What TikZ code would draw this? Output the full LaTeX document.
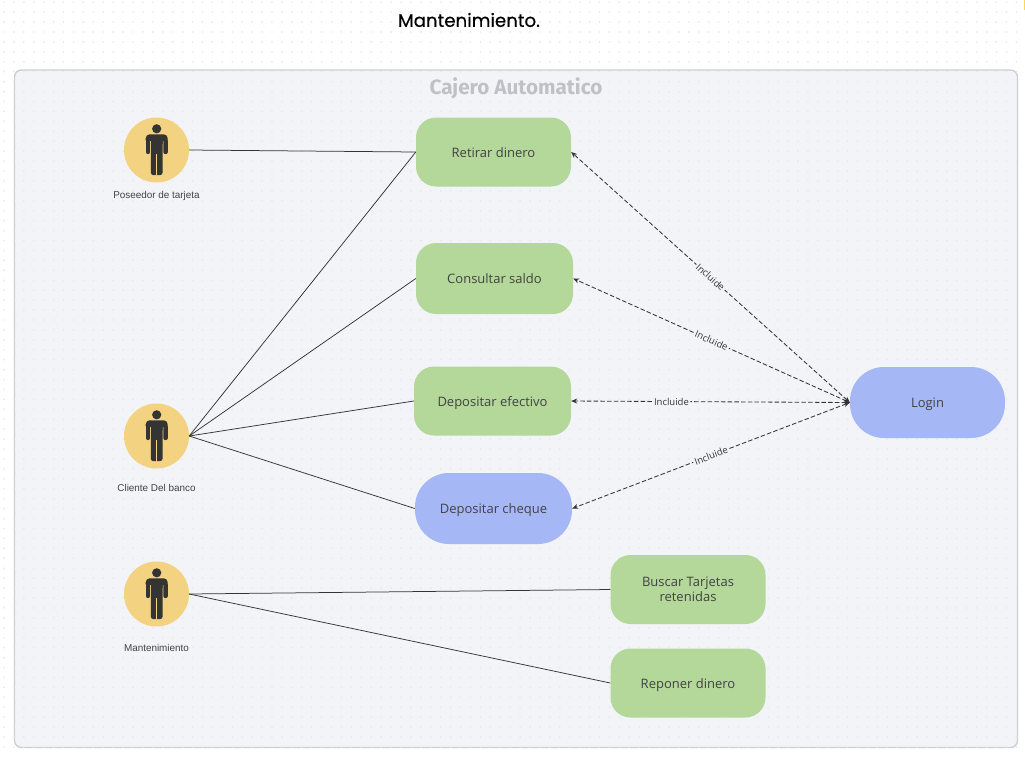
\documentclass[tikz,border=0pt]{standalone}
\usepackage{fontspec}
\setmainfont{Open Sans}
\newfontfamily\titlefont[FakeBold=0.4]{Poppins}
\newfontfamily\framefont{Fira Sans}
\newfontfamily\actorfont{Liberation Sans}
\usepackage{xcolor}
\usepackage{tikz}
\usetikzlibrary{arrows.meta}
\definecolor{framebg}{RGB}{243,244,247}
\definecolor{framerule}{RGB}{205,207,210}
\definecolor{framehead}{RGB}{190,194,198}
\definecolor{griddot}{RGB}{232,233,236}
\definecolor{ucgreen}{RGB}{180,216,154}
\definecolor{ucblue}{RGB}{166,183,246}
\definecolor{actorgold}{RGB}{243,211,130}
\definecolor{inkdark}{RGB}{52,52,52}
\definecolor{inktext}{RGB}{66,66,66}
\definecolor{cornermark}{RGB}{255,214,80}
\tikzset{
  uc/.style={draw=none,align=center,font=\fontsize{13}{14.8}\selectfont,text=inktext,
             inner sep=0pt,minimum width=155pt,minimum height=69pt},
  ucg/.style={uc,fill=ucgreen,rounded corners=20pt},
  ucb/.style={uc,fill=ucblue,rounded corners=34pt},
  ucline/.style={text height=10.6pt,text depth=0pt},
  actor/.style={circle,fill=actorgold,minimum size=65pt,inner sep=0pt},
  actorlbl/.style={font=\actorfont\fontsize{9.9}{11}\selectfont,text=inktext,inner sep=0pt},
  assoc/.style={draw=inkdark,line width=0.75pt},
  incl/.style={{Stealth[length=6pt,width=5pt]}-{Stealth[length=6pt,width=5pt]},
               draw=inkdark,dash pattern=on 4.5pt off 2.2pt,line width=0.85pt},
  incllbl/.style={font=\fontsize{9.5}{11}\selectfont,text=inkdark,fill=framebg,
                  inner xsep=1.5pt,inner ysep=0.5pt,sloped},
  griddots/.style={draw=griddot,line width=1.9pt,line cap=round,dash pattern=on 0pt off 9.925pt},
  actorfig/.pic={
    \fill[inkdark] (0.2,-21.2) circle (4.6);
    \fill[inkdark,rounded corners=4pt] (-10.8,-15.7) rectangle (11.2,-6);
    \draw[inkdark,line width=4.3pt,line cap=round] (-8.6,-9) -- (-8.6,2);
    \draw[inkdark,line width=4.3pt,line cap=round] (9,-9) -- (9,2);
    \fill[actorgold] (-6.4,-9) rectangle (-5.6,5) (6,-9) rectangle (6.8,5);
    \fill[inkdark,rounded corners=2.2pt] (-5.6,-12) rectangle (6,25);
    \fill[actorgold] (-0.2,4) rectangle (0.6,26);
  },
}

\begin{document}
\begin{tikzpicture}[x=1pt,y=-1pt]
  \useasboundingbox (0,0) rectangle (1025,756);
  \fill[white] (0,0) rectangle (1025,756);
  \fill[cornermark] (1024,0) rectangle (1025,10);

  \draw[draw=framerule,fill=framebg,line width=1.4pt,rounded corners=7pt] (14.5,70) rectangle (1017.5,747.5);
  \foreach \iy in {0,...,75}
    \draw[griddots] (4,{2.2+9.93*\iy}) -- (1020,{2.2+9.93*\iy});

  \node[font=\titlefont\fontsize{18.2}{20}\selectfont,text=black,inner sep=0pt] (title) at (469,20) {Mantenimiento.};
  \node[font=\framefont\fontsize{20.7}{23}\selectfont\bfseries,text=framehead,inner sep=0pt] (system) at (516,88.5) {Cajero Automatico};

  \node[actor] (poseedor) at (156.5,150) {};
  \node[actor] (cliente)  at (156.5,436) {};
  \node[actor] (manten)   at (156.5,594) {};
  \foreach \who in {poseedor,cliente,manten}
    \pic at (\who) {actorfig};

  \node[actorlbl] (poseedorlbl) at (156.5,195.5) {Poseedor de tarjeta};
  \node[actorlbl] (clientelbl)  at (156.5,487.5) {Cliente Del banco};
  \node[actorlbl] (mantenlbl)   at (156.5,648)   {Mantenimiento};

  \node[ucg,ucline] (retirar)   at (493.5,152) {Retirar dinero};
  \node[ucg,ucline,minimum width=157pt,minimum height=71pt] (consultar) at (494.5,278.5) {Consultar saldo};
  \node[ucg,ucline,minimum width=157pt] (efectivo)  at (492.5,401) {Depositar efectivo};
  \node[ucb,ucline,minimum width=157pt,minimum height=71pt] (cheque) at (493.5,508.5) {Depositar cheque};
  \node[ucb,ucline,minimum height=71pt] (login)     at (927.5,402.5) {Login};
  \node[ucg] (buscar)    at (688,589.5) {Buscar Tarjetas\\retenidas};
  \node[ucg,ucline] (reponer)   at (688,683)   {Reponer dinero};

  \draw[assoc] (poseedor.east) -- (retirar.west);
  \foreach \uc in {retirar,consultar,efectivo,cheque}
    \draw[assoc] (cliente.east) -- (\uc.west);
  \draw[assoc] (manten.east) -- (buscar.west);
  \draw[assoc] (manten.east) -- (reponer.west);

  \foreach \uc/\lblpos in {retirar/0.5,consultar/0.5,efectivo/0.64,cheque/0.5}
    \draw[incl] (login.west) -- node[incllbl,pos=\lblpos]{Incluide} (\uc.east);
\end{tikzpicture}
\end{document}
